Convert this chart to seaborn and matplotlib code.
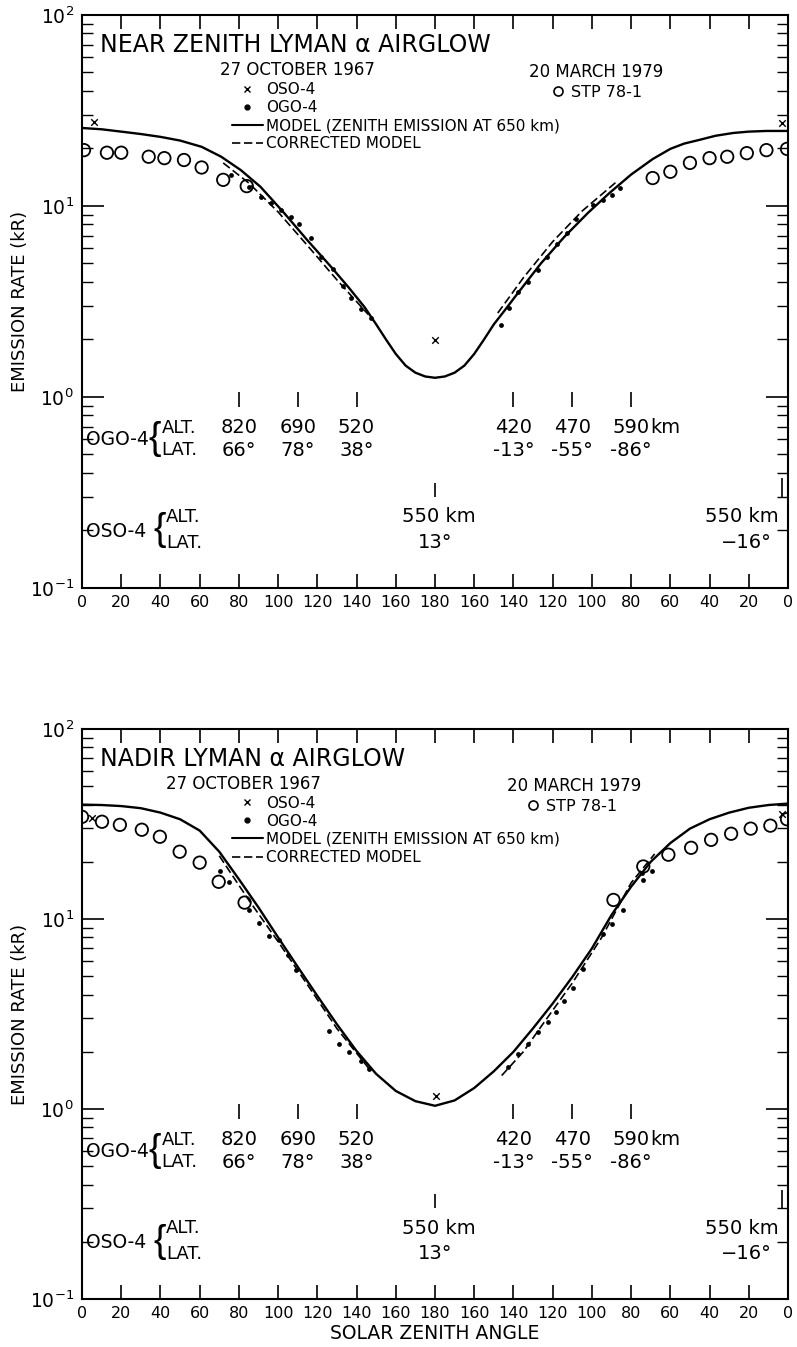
import numpy as np
import matplotlib
matplotlib.use("Agg")
import matplotlib.pyplot as plt
from matplotlib.lines import Line2D
from matplotlib.ticker import LogLocator, NullFormatter
import seaborn as sns

# ---------------- data (x = position on the folded solar-zenith-angle axis: 0 -> 180 -> 0) ----
xtick_pos = [0, 20, 40, 60, 80, 100, 120, 140, 160, 180, 200, 220, 240, 260, 280, 300, 320, 340, 360]
xtick_labels = ["0", "20", "40", "60", "80", "100", "120", "140", "160", "180",
                "160", "140", "120", "100", "80", "60", "40", "20", "0"]

# Top panel: near zenith
top_model_x = [0, 10, 20, 30, 40, 50, 61, 71, 81, 91, 103, 115, 127, 136, 144, 150, 155, 160, 165,
               170, 175, 180, 185, 190, 195, 200, 205, 210, 216, 222, 234, 246, 258, 269, 280,
               291, 300, 307, 315, 323, 332, 340, 349, 360]
top_model_y = [25.6, 25.2, 24.5, 23.8, 23.0, 22.0, 20.4, 18.1, 15.4, 12.6, 9.2, 6.6, 4.8, 3.74,
               2.96, 2.40, 2.0, 1.68, 1.46, 1.34, 1.28, 1.26, 1.28, 1.34, 1.46, 1.68, 2.0, 2.4,
               2.88, 3.47, 5.0, 6.9, 9.2, 11.7, 14.6, 17.6, 19.9, 21.2, 22.2, 23.3, 24.1, 24.5,
               24.7, 24.7]
top_corr1_x = [72, 85, 100, 115, 130, 146]
top_corr1_y = [16.8, 13.2, 9.3, 6.2, 4.1, 2.7]
top_corr2_x = [212, 225, 240, 255, 273]
top_corr2_y = [2.75, 4.2, 6.5, 9.4, 13.5]
top_ogo_x = [76, 85, 91.5, 96.6, 101.7, 106.8, 110.8, 116.9, 122, 128.1, 133.2, 137.3, 142.3, 147.4,
             213.5, 217.6, 222.2, 227.3, 232.3, 236.9, 242, 247.1, 251.7, 260.8, 265.9, 270.5, 274.5]
top_ogo_y = [14.5, 12.6, 11.1, 10.4, 9.5, 8.8, 8.0, 6.8, 5.4, 4.7, 3.8, 3.3, 2.9, 2.6,
             2.38, 2.92, 3.55, 4.0, 4.6, 5.4, 6.3, 7.2, 8.5, 10.1, 10.7, 11.4, 12.4]
top_stp_x = [1, 12.7, 20, 34, 42, 52, 61, 72, 84,
             291, 300, 310, 320, 329, 339, 349, 359.5]
top_stp_y = [19.6, 19.0, 19.0, 18.1, 17.8, 17.4, 15.9, 13.7, 12.7,
             14.0, 15.1, 16.8, 17.8, 18.1, 18.9, 19.6, 19.9]
top_oso_x = [6, 180, 357]
top_oso_y = [27.5, 1.99, 27.3]

# Bottom panel: nadir
bot_model_x = [0, 10, 20, 30, 40, 50, 60, 70, 80, 90, 100, 110, 120, 130, 140, 150, 160, 170, 180,
               190, 200, 210, 220, 230, 240, 250, 260, 270, 280, 290, 300, 310, 320, 330, 340,
               350, 360]
bot_model_y = [40.0, 39.8, 39.3, 38.3, 36.3, 33.5, 29.2, 22.6, 16.2, 11.5, 8.0, 5.6, 3.94, 2.79,
               2.02, 1.53, 1.245, 1.10, 1.04,
               1.11, 1.29, 1.58, 2.0, 2.66, 3.59, 4.95, 7.0, 10.5, 14.8, 20.0, 25.1, 29.9, 33.5,
               36.3, 38.5, 39.8, 40.5]
bot_corr1_x = [70, 85, 100, 115, 130, 147]
bot_corr1_y = [21.5, 12.6, 7.6, 4.5, 2.65, 1.6]
bot_corr2_x = [214, 225, 235, 250, 265, 280, 292]
bot_corr2_y = [1.5, 2.0, 2.8, 4.6, 8.0, 15.5, 22.0]
bot_ogo_x = [70.2, 75.2, 85.4, 90.5, 95.6, 100.2, 105.2, 109.3, 126.1, 131.2, 136.2, 142.3, 146.4,
             217, 222.2, 227.3, 232.3, 237.4, 241.5, 245.6, 250.6, 255.7, 265.9, 270.5, 276.1,
             285.7, 286.2, 290.8]
bot_ogo_y = [17.8, 15.6, 11.2, 9.5, 8.1, 7.8, 6.5, 5.4, 2.57, 2.19, 1.99, 1.79, 1.62,
             1.66, 1.94, 2.19, 2.54, 2.86, 3.23, 3.69, 4.32, 5.43, 8.3, 9.4, 11.2,
             17.5, 16.1, 17.8]
bot_stp_x = [0, 10.2, 19.3, 30.5, 39.7, 49.8, 60, 69.7, 82.9,
             271, 286.2, 299, 310.6, 320.8, 331, 341, 351, 359.5]
bot_stp_y = [34.5, 32.5, 31.3, 29.5, 27.1, 22.6, 19.8, 15.7, 12.2,
             12.6, 18.9, 21.8, 23.7, 26.1, 28.1, 29.9, 31.0, 33.5]
bot_oso_x = [5, 180.5, 357]
bot_oso_y = [34.1, 1.17, 35.8]

# Orbit annotations
ogo_mark_x = [80, 110, 140, 220, 250, 280]
ogo_alt_labels = ["820", "690", "520", "420", "470", "590"]
ogo_lat_labels = ["66°", "78°", "38°", "-13°", "-55°", "-86°"]
oso_mark_x = [180, 357]

# ---------------- style ----------------
sns.set_style("ticks")
plt.rcParams["font.family"] = ["DejaVu Sans"]
plt.rcParams["mathtext.default"] = "regular"
for key in ["text.color", "axes.labelcolor", "xtick.color", "ytick.color", "axes.edgecolor"]:
    plt.rcParams[key] = "black"

fig = plt.figure(figsize=(7.97, 13.47), dpi=100)
ax_top = fig.add_axes([0.1029, 0.5635, 0.8858, 0.4254])
ax_bot = fig.add_axes([0.1029, 0.0356, 0.8858, 0.4232])

K = "black"
dash = (0, (5, 2.2))


def draw_panel(ax, title, mx, my, c1x, c1y, c2x, c2y, ox, oy, sx, sy, xx, xy,
               date1_x, date2_x, stp_x):
    ax.set_yscale("log")
    ax.set_xlim(0, 360)
    ax.set_ylim(0.1, 100)

    sns.lineplot(x=mx, y=my, ax=ax, color=K, lw=1.7, sort=False, estimator=None)
    sns.lineplot(x=c1x, y=c1y, ax=ax, color=K, lw=1.2, ls=dash, sort=False, estimator=None)
    sns.lineplot(x=c2x, y=c2y, ax=ax, color=K, lw=1.2, ls=dash, sort=False, estimator=None)
    sns.scatterplot(x=ox, y=oy, ax=ax, color=K, s=12, marker="o", edgecolor=K, linewidth=0, zorder=4)
    sns.scatterplot(x=sx, y=sy, ax=ax, color="none", edgecolor=K, s=80, marker="o",
                    linewidth=1.3, zorder=4)
    sns.scatterplot(x=xx, y=xy, ax=ax, color=K, s=22, marker="x", linewidth=1.0, zorder=4)

    # Axes styling
    for sp in ax.spines.values():
        sp.set_visible(True)
        sp.set_linewidth(1.5)
        sp.set_color(K)
    ax.set_xticks(xtick_pos)
    ax.set_xticklabels(xtick_labels)
    ax.yaxis.set_major_locator(LogLocator(base=10, numticks=10))
    ax.yaxis.set_minor_locator(LogLocator(base=10, subs=np.arange(2, 10), numticks=10))
    ax.yaxis.set_minor_formatter(NullFormatter())
    ax.tick_params(axis="x", which="major", direction="in", length=10, width=1.2,
                   top=True, labelsize=11.5, pad=5, colors=K)
    ax.tick_params(axis="y", which="major", direction="in", length=16, width=1.2,
                   right=True, labelsize=13.5, pad=6, colors=K)
    ax.tick_params(axis="y", which="minor", direction="in", length=8, width=1.0, right=True)
    ax.set_ylabel("EMISSION RATE (kR)", fontsize=13)
    ax.yaxis.set_label_coords(-0.075, 0.5)
    ax.set_xlabel("")

    # Title and headings
    ax.text(0.0255, 0.948, title, transform=ax.transAxes, fontsize=17, ha="left", va="center")
    ax.text(date1_x, 0.904, "27 OCTOBER 1967", transform=ax.transAxes, fontsize=12,
            ha="center", va="center")
    ax.text(date2_x, 0.9005, "20 MARCH 1979", transform=ax.transAxes, fontsize=12,
            ha="center", va="center")

    # Legends
    h1 = [Line2D([], [], ls="none", marker="x", color=K, ms=5, mew=1.0),
          Line2D([], [], ls="none", marker="o", color=K, ms=3.5),
          Line2D([], [], color=K, lw=1.5),
          Line2D([], [], color=K, lw=1.2, ls=dash)]
    l1 = ax.legend(h1, ["OSO-4", "OGO-4", "MODEL (ZENITH EMISSION AT 650 km)", "CORRECTED MODEL"],
                   loc="upper left", bbox_to_anchor=(0.2125, 0.883), frameon=False,
                   fontsize=11, handlelength=2.0, handletextpad=0.25, labelspacing=0.2,
                   borderpad=0, borderaxespad=0)
    ax.add_artist(l1)
    h2 = [Line2D([], [], ls="none", marker="o", mfc="none", mec=K, ms=6.5, mew=1.2)]
    ax.legend(h2, ["STP 78-1"], loc="upper left", bbox_to_anchor=(stp_x, 0.878), frameon=False,
              fontsize=11.5, handlelength=0.8, handletextpad=0.4, borderpad=0, borderaxespad=0)

    # OGO-4 orbit annotations
    ax.vlines(ogo_mark_x, 0.89, 1.06, color=K, lw=1.2)
    for x, a, l in zip(ogo_mark_x, ogo_alt_labels, ogo_lat_labels):
        ax.text(x, 0.69, a, fontsize=14, ha="center", va="center")
        ax.text(x, 0.525, l, fontsize=14, ha="center", va="center")
    ax.text(ogo_mark_x[-1] + 10, 0.69, "km", fontsize=14, ha="left", va="center")
    ax.text(2, 0.60, "OGO-4", fontsize=13.5, ha="left", va="center")
    ax.text(37.3, 0.60, "{", fontsize=27, ha="center", va="center", family="Liberation Sans")
    ax.text(40.5, 0.69, "ALT.", fontsize=13, ha="left", va="center")
    ax.text(40.5, 0.525, "LAT.", fontsize=13, ha="left", va="center")

    # OSO-4 orbit annotations
    ax.vlines(oso_mark_x[0], 0.30, 0.355, color=K, lw=1.2)
    ax.vlines(oso_mark_x[1], 0.30, 0.375, color=K, lw=1.2)
    ax.text(oso_mark_x[0] + 2, 0.236, "550 km", fontsize=14, ha="center", va="center")
    ax.text(oso_mark_x[0], 0.174, "13°", fontsize=14, ha="center", va="center")
    ax.text(355, 0.236, "550 km", fontsize=14, ha="right", va="center")
    ax.text(339, 0.174, "−16°", fontsize=14, ha="center", va="center")
    ax.text(2, 0.198, "OSO-4", fontsize=13.5, ha="left", va="center")
    ax.text(39.5, 0.200, "{", fontsize=27, ha="center", va="center", family="Liberation Sans")
    ax.text(43, 0.236, "ALT.", fontsize=13, ha="left", va="center")
    ax.text(43, 0.172, "LAT.", fontsize=13, ha="left", va="center")


draw_panel(ax_top, "NEAR ZENITH LYMAN α AIRGLOW", top_model_x, top_model_y,
           top_corr1_x, top_corr1_y, top_corr2_x, top_corr2_y,
           top_ogo_x, top_ogo_y, top_stp_x, top_stp_y, top_oso_x, top_oso_y,
           0.3045, 0.728, 0.665)
draw_panel(ax_bot, "NADIR LYMAN α AIRGLOW", bot_model_x, bot_model_y,
           bot_corr1_x, bot_corr1_y, bot_corr2_x, bot_corr2_y,
           bot_ogo_x, bot_ogo_y, bot_stp_x, bot_stp_y, bot_oso_x, bot_oso_y,
           0.228, 0.697, 0.63)
ax_bot.set_xlabel("SOLAR ZENITH ANGLE", fontsize=13.5, labelpad=2)

fig.savefig("out.png", dpi=100, facecolor="white")
